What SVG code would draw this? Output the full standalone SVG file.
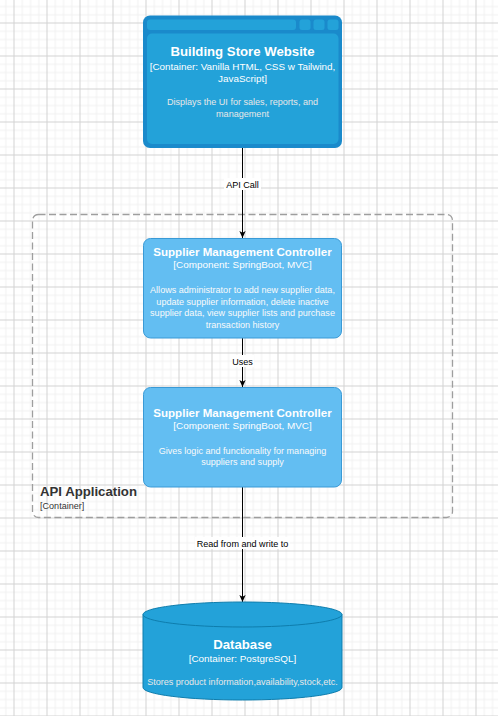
<svg xmlns="http://www.w3.org/2000/svg" width="498" height="716" viewBox="0 0 498 716">
<defs>
<pattern id="grid" patternUnits="userSpaceOnUse" x="13.5" y="22.5" width="33" height="33">
<path d="M8.75 0V33M17 0V33M25.25 0V33M0 8.75H33M0 17H33M0 25.25H33" stroke="#f0f0f0" stroke-width="1" fill="none"/>
<path d="M0.5 0V33M0 0.5H33" stroke="#d3d3d3" stroke-width="1" fill="none"/>
</pattern>
<marker id="arrow" markerUnits="userSpaceOnUse" viewBox="0 0 10 10" refX="10" refY="5" markerWidth="7" markerHeight="7" orient="auto">
<path d="M0,0.5 L10,5 L0,9.5 L2.5,5 z" fill="#000"/>
</marker>
</defs>
<style>
text{font-family:"Liberation Sans",Arial,sans-serif;text-anchor:middle}
.t{font-size:13.2px;font-weight:bold;fill:#fff}
.tc{font-size:11.55px;font-weight:bold;fill:#fff}
.s{font-size:9.9px;fill:#fff}
.d{font-size:9.075px;fill:#e8e8e8}
.dc{font-size:9.075px;fill:#fafafa}
.lbl{font-size:9.075px;fill:#000}
.edge{stroke:#000;stroke-width:1;fill:none;marker-end:url(#arrow)}
.comp{fill:#63BEF2;stroke:#3A9AD6;stroke-width:1}
.bg{fill:#fff}
</style>
<rect width="498" height="716" fill="#fff"/>
<rect width="498" height="716" fill="url(#grid)"/>

<g id="api-application">
<rect x="32.5" y="214.5" width="420" height="303" rx="6" fill="none" stroke="#9e9e9e" stroke-width="1.3" stroke-dasharray="7 3.5"/>
<text x="40" y="495.5" style="text-anchor:start;font-size:13.2px;font-weight:bold;fill:#333">API Application</text>
<text x="40" y="508.5" style="text-anchor:start;font-size:9.075px;fill:#333">[Container]</text>
</g>

<g id="connectors">
<path class="edge" d="M242.5 148V238"/>
<rect class="bg" x="224" y="178" width="37" height="12"/>
<text class="lbl" x="242.5" y="187.5">API Call</text>
<path class="edge" d="M242.5 338V387"/>
<rect class="bg" x="232" y="355" width="22" height="12"/>
<text class="lbl" x="242.5" y="364.5">Uses</text>
<path class="edge" d="M242.5 487V602"/>
<rect class="bg" x="195" y="537" width="95" height="12"/>
<text class="lbl" x="242.5" y="546.5">Read from and write to</text>
</g>

<g id="building-store-website">
<rect x="143" y="15.5" width="199" height="132.5" rx="7" fill="#1A8ACB"/>
<rect x="147" y="19.5" width="149" height="10.5" rx="3" fill="#23A2D9"/>
<rect x="299.5" y="19.5" width="11" height="10.5" rx="2.5" fill="#23A2D9"/>
<rect x="313.5" y="19.5" width="11" height="10.5" rx="2.5" fill="#23A2D9"/>
<rect x="327.5" y="19.5" width="11" height="10.5" rx="2.5" fill="#23A2D9"/>
<rect x="147" y="33.5" width="191.5" height="110.5" rx="5" fill="#23A2D9"/>
<text class="t" x="242.5" y="55.5">Building Store Website</text>
<text class="s" x="242.5" y="69.5">[Container: Vanilla HTML, CSS w Tailwind,</text>
<text class="s" x="242.5" y="81.5">JavaScript]</text>
<text class="d" x="242.5" y="105">Displays the UI for sales, reports, and</text>
<text class="d" x="242.5" y="117">management</text>
</g>

<g id="supplier-controller-1">
<rect class="comp" x="143.5" y="238.5" width="198" height="99.5" rx="7"/>
<text class="tc" x="242.5" y="256">Supplier Management Controller</text>
<text class="s" x="242.5" y="268">[Component: SpringBoot, MVC]</text>
<text class="dc" x="242.5" y="293">Allows administrator to add new supplier data,</text>
<text class="dc" x="242.5" y="304.5">update supplier information, delete inactive</text>
<text class="dc" x="242.5" y="316">supplier data, view supplier lists and purchase</text>
<text class="dc" x="242.5" y="327.5">transaction history</text>
</g>

<g id="supplier-controller-2">
<rect class="comp" x="143.5" y="387.5" width="198" height="99.5" rx="7"/>
<text class="tc" x="242.5" y="416.5">Supplier Management Controller</text>
<text class="s" x="242.5" y="428.5">[Component: SpringBoot, MVC]</text>
<text class="dc" x="242.5" y="453.5">Gives logic and functionality for managing</text>
<text class="dc" x="242.5" y="465">suppliers and supply</text>
</g>

<g id="database">
<path d="M143 614.5A99.5 12.5 0 0 1 342 614.5V687.5A99.5 12.5 0 0 1 143 687.5Z" fill="#23A2D9" stroke="#0E7DAD" stroke-width="1"/>
<path d="M143 614.5A99.5 12.5 0 0 0 342 614.5" fill="none" stroke="#0E7DAD" stroke-width="1"/>
<text class="t" x="242.5" y="649">Database</text>
<text class="s" x="242.5" y="661.5">[Container: PostgreSQL]</text>
<text class="d" x="242.5" y="685">Stores product information,availability,stock,etc.</text>
</g>
</svg>
